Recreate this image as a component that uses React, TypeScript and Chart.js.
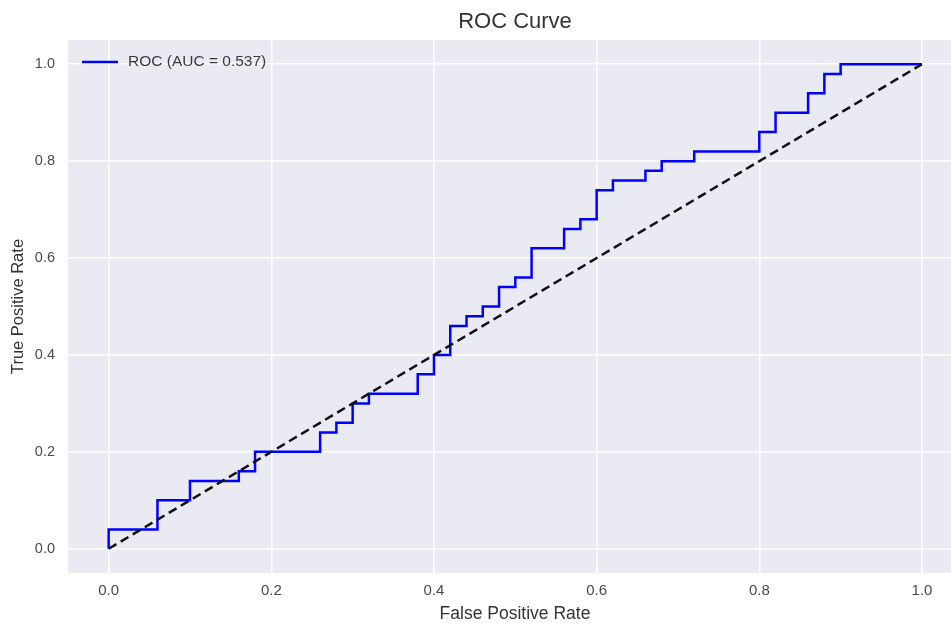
import React, { useEffect, useRef } from "react";
import { Chart, registerables } from "chart.js";

Chart.register(...registerables);

// ROC curve corner points (False Positive Rate, True Positive Rate)
const rocFpr = [
  0, 0, 0.06, 0.06, 0.1, 0.1, 0.16, 0.16, 0.18, 0.18, 0.26, 0.26, 0.28, 0.28,
  0.3, 0.3, 0.32, 0.32, 0.38, 0.38, 0.4, 0.4, 0.42, 0.42, 0.44, 0.44, 0.46, 0.46,
  0.48, 0.48, 0.5, 0.5, 0.52, 0.52, 0.56, 0.56, 0.58, 0.58, 0.6, 0.6, 0.62, 0.62,
  0.66, 0.66, 0.68, 0.68, 0.72, 0.72, 0.8, 0.8, 0.82, 0.82, 0.86, 0.86, 0.88,
  0.88, 0.9, 0.9, 1.0,
];
const rocTpr = [
  0, 0.04, 0.04, 0.1, 0.1, 0.14, 0.14, 0.16, 0.16, 0.2, 0.2, 0.24, 0.24, 0.26,
  0.26, 0.3, 0.3, 0.32, 0.32, 0.36, 0.36, 0.4, 0.4, 0.46, 0.46, 0.48, 0.48, 0.5,
  0.5, 0.54, 0.54, 0.56, 0.56, 0.62, 0.62, 0.66, 0.66, 0.68, 0.68, 0.74, 0.74,
  0.76, 0.76, 0.78, 0.78, 0.8, 0.8, 0.82, 0.82, 0.86, 0.86, 0.9, 0.9, 0.94, 0.94,
  0.98, 0.98, 1.0, 1.0,
];
const chanceFpr = [0, 1];
const chanceTpr = [0, 1];
const aucValue = 0.537;
const xTicks = [0, 0.2, 0.4, 0.6, 0.8, 1.0];
const yTicks = [0, 0.2, 0.4, 0.6, 0.8, 1.0];

const chartTitle = "ROC Curve";
const xLabel = "False Positive Rate";
const yLabel = "True Positive Rate";
const rocLabel = `ROC (AUC = ${aucValue.toFixed(3)})`;

const FONT = "'Liberation Sans', Arial, sans-serif";
const TEXT = "#333333";

const decorPlugin = {
  id: "decor",
  beforeDraw(chart: any) {
    const { ctx, chartArea } = chart;
    ctx.save();
    ctx.fillStyle = "#EAEAF2";
    ctx.fillRect(chartArea.left, chartArea.top, chartArea.right - chartArea.left, chartArea.bottom - chartArea.top);
    ctx.restore();
  },
  afterDraw(chart: any) {
    const { ctx, chartArea } = chart;
    const cx = 515;
    ctx.save();
    ctx.fillStyle = TEXT;
    ctx.textAlign = "center";
    ctx.textBaseline = "middle";
    ctx.font = `22px ${FONT}`;
    ctx.fillText(chartTitle, cx, 22);
    ctx.font = `17.5px ${FONT}`;
    ctx.fillText(xLabel, cx, 614);
    ctx.save();
    ctx.translate(18, (chartArea.top + chartArea.bottom) / 2);
    ctx.rotate(-Math.PI / 2);
    ctx.font = `16.5px ${FONT}`;
    ctx.fillText(yLabel, 0, 0);
    ctx.restore();
    // legend
    const ly = 62;
    ctx.strokeStyle = "#0000FF";
    ctx.lineWidth = 2.5;
    ctx.beginPath();
    ctx.moveTo(82, ly);
    ctx.lineTo(118, ly);
    ctx.stroke();
    ctx.textAlign = "left";
    ctx.font = `15.5px ${FONT}`;
    ctx.fillStyle = "#3a3a3a";
    ctx.fillText(rocLabel, 128, ly);
    ctx.restore();
  },
};

export default function App() {
  const ref = useRef<HTMLCanvasElement>(null);
  useEffect(() => {
    if (!ref.current) return;
    const chart = new Chart(ref.current, {
      type: "line",
      data: {
        datasets: [
          {
            label: "Chance",
            data: chanceFpr.map((x, i) => ({ x, y: chanceTpr[i] })),
            borderColor: "#111111",
            borderWidth: 2.5,
            borderDash: [9, 5],
            pointRadius: 0,
            tension: 0,
            fill: false,
          },
          {
            label: rocLabel,
            data: rocFpr.map((x, i) => ({ x, y: rocTpr[i] })),
            borderColor: "#0000FF",
            borderWidth: 2.5,
            pointRadius: 0,
            tension: 0,
            fill: false,
          },
        ],
      },
      options: {
        animation: false,
        responsive: false,
        maintainAspectRatio: false,
        layout: { padding: { top: 40, left: 0, right: 0, bottom: 0 } },
        plugins: {
          legend: { display: false },
          title: { display: false },
          tooltip: { enabled: false },
        },
        scales: {
          x: {
            type: "linear",
            min: -0.05,
            max: 1.0357,
            afterBuildTicks: (s: any) => {
              s.ticks = xTicks.map((v) => ({ value: v }));
            },
            afterFit: (s: any) => {
              s.height = 53;
            },
            grid: { color: "#FFFFFF", lineWidth: 1.5, drawTicks: false },
            border: { display: false },
            ticks: {
              padding: 9,
              color: "#4a4a4a",
              font: { family: FONT, size: 15 },
              callback: (v: any) => Number(v).toFixed(1),
            },
          },
          y: {
            type: "linear",
            min: -0.05,
            max: 1.05,
            afterBuildTicks: (s: any) => {
              s.ticks = yTicks.map((v) => ({ value: v }));
            },
            afterFit: (s: any) => {
              s.width = 68;
            },
            grid: { color: "#FFFFFF", lineWidth: 1.5, drawTicks: false },
            border: { display: false },
            ticks: {
              padding: 13,
              color: "#4a4a4a",
              font: { family: FONT, size: 14.5 },
              callback: (v: any) => Number(v).toFixed(1),
            },
          },
        },
      },
      plugins: [decorPlugin],
    } as any);
    return () => chart.destroy();
  }, []);
  return (
    <div style={{ position: "absolute", left: 0, top: 0, width: 951, height: 626, background: "#FFFFFF" }}>
      <canvas ref={ref} width={951} height={626} style={{ display: "block" }} />
    </div>
  );
}
